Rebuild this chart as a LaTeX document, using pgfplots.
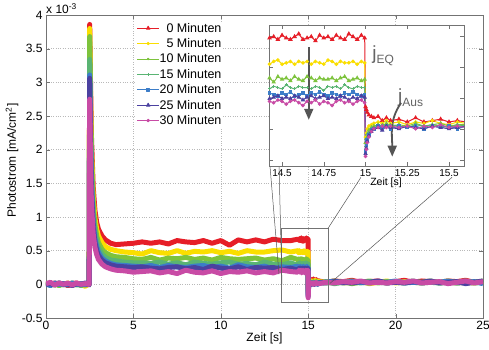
\documentclass[border=0pt]{standalone}
\usepackage{fontspec}
\setmainfont{Liberation Sans}
\usepackage{pgfplots}
\pgfplotsset{compat=1.18}
\usepackage{pgfplotstable}
\usetikzlibrary{arrows.meta}
\definecolor{c0}{RGB}{230,30,40}
\definecolor{c5}{RGB}{250,222,0}
\definecolor{c10}{RGB}{125,195,60}
\definecolor{c15}{RGB}{90,180,115}
\definecolor{c20}{RGB}{60,125,200}
\definecolor{c25}{RGB}{75,65,160}
\definecolor{c30}{RGB}{200,75,165}
\definecolor{axgray}{RGB}{115,115,115}
\definecolor{arr}{RGB}{85,85,85}
\definecolor{jgray}{RGB}{100,100,100}
\pgfplotstableread{
t r y g l b d m
0.00 0.01 0.00 0.02 -0.01 0.01 0.00 0.01
0.25 -0.01 0.02 0.00 0.01 -0.02 0.01 0.03
0.50 0.02 -0.01 0.01 0.00 0.02 -0.01 -0.01
0.75 0.00 0.01 -0.02 0.02 0.00 0.02 0.02
1.00 0.01 0.00 0.01 -0.01 0.01 0.00 0.00
1.25 -0.02 0.02 0.00 0.01 -0.01 0.01 0.02
1.50 0.01 -0.01 0.02 0.00 0.02 -0.02 -0.01
1.75 0.02 0.01 -0.01 0.01 0.00 0.01 0.02
2.00 -0.01 0.00 0.01 -0.02 0.01 0.00 0.00
2.25 0.01 -0.03 0.00 0.01 -0.01 0.02 0.01
2.47 0.00 0.01 0.02 0.00 0.01 -0.01 0.00
2.50 3.86 3.80 3.68 3.34 3.11 3.06 2.75
2.55 2.95 2.80 2.60 2.30 2.10 2.00 1.75
2.60 2.20 2.05 1.90 1.65 1.50 1.40 1.20
2.70 1.45 1.30 1.18 1.05 0.92 0.85 0.75
2.80 1.10 0.98 0.88 0.78 0.68 0.62 0.55
2.90 0.92 0.82 0.72 0.63 0.56 0.50 0.44
3.00 0.82 0.72 0.62 0.54 0.48 0.43 0.37
3.20 0.72 0.62 0.52 0.45 0.39 0.36 0.30
3.40 0.66 0.56 0.47 0.40 0.35 0.32 0.26
3.70 0.61 0.52 0.43 0.36 0.31 0.29 0.23
4.00 0.59 0.50 0.41 0.35 0.29 0.27 0.21
4.50 0.60 0.48 0.40 0.33 0.28 0.26 0.20
5.00 0.61 0.47 0.38 0.32 0.27 0.25 0.18
5.50 0.63 0.45 0.37 0.32 0.26 0.26 0.19
6.00 0.61 0.50 0.40 0.31 0.28 0.24 0.20
6.50 0.63 0.47 0.36 0.33 0.25 0.23 0.17
7.00 0.60 0.46 0.39 0.30 0.28 0.25 0.19
7.50 0.65 0.50 0.38 0.32 0.26 0.26 0.16
8.00 0.63 0.46 0.40 0.29 0.25 0.23 0.21
8.50 0.62 0.49 0.37 0.33 0.27 0.25 0.18
9.00 0.65 0.48 0.39 0.31 0.28 0.22 0.17
9.50 0.61 0.50 0.36 0.30 0.25 0.27 0.20
10.00 0.65 0.47 0.40 0.32 0.27 0.24 0.16
10.50 0.58 0.49 0.38 0.33 0.24 0.23 0.19
11.00 0.66 0.46 0.37 0.30 0.29 0.26 0.18
11.50 0.63 0.50 0.38 0.31 0.26 0.22 0.20
12.00 0.66 0.48 0.39 0.29 0.25 0.25 0.17
12.50 0.63 0.48 0.36 0.33 0.27 0.24 0.19
13.00 0.67 0.50 0.38 0.30 0.23 0.25 0.17
13.50 0.65 0.51 0.35 0.29 0.26 0.22 0.21
14.00 0.65 0.48 0.40 0.32 0.25 0.24 0.19
14.40 0.67 0.50 0.37 0.28 0.27 0.21 0.18
14.425 0.66 0.47 0.37 0.29 0.26 0.22 0.20
14.450 0.67 0.49 0.34 0.31 0.25 0.23 0.19
14.475 0.65 0.50 0.38 0.30 0.24 0.24 0.21
14.500 0.68 0.47 0.36 0.29 0.26 0.22 0.20
14.525 0.66 0.48 0.37 0.32 0.25 0.23 0.18
14.550 0.65 0.49 0.35 0.30 0.27 0.22 0.20
14.575 0.67 0.47 0.38 0.29 0.24 0.24 0.21
14.600 0.69 0.49 0.36 0.31 0.25 0.23 0.19
14.625 0.65 0.48 0.35 0.30 0.26 0.21 0.17
14.650 0.66 0.49 0.38 0.30 0.24 0.23 0.20
14.675 0.67 0.47 0.37 0.29 0.26 0.24 0.19
14.700 0.64 0.49 0.35 0.31 0.25 0.22 0.21
14.725 0.68 0.48 0.37 0.30 0.27 0.23 0.18
14.750 0.66 0.47 0.36 0.28 0.25 0.24 0.20
14.775 0.67 0.50 0.36 0.31 0.24 0.22 0.19
14.800 0.65 0.49 0.37 0.30 0.26 0.23 0.17
14.825 0.68 0.47 0.35 0.31 0.25 0.22 0.20
14.850 0.66 0.49 0.37 0.29 0.24 0.24 0.21
14.875 0.65 0.48 0.38 0.32 0.26 0.23 0.19
14.900 0.69 0.48 0.35 0.30 0.25 0.21 0.20
14.925 0.67 0.49 0.36 0.29 0.27 0.23 0.18
14.950 0.65 0.47 0.37 0.31 0.25 0.22 0.20
14.975 0.68 0.49 0.35 0.30 0.24 0.24 0.21
14.995 0.66 0.48 0.36 0.30 0.25 0.23 0.19
15.000 0.16 -0.06 -0.10 -0.13 -0.16 -0.18 -0.20
15.005 0.14 -0.03 -0.07 -0.10 -0.12 -0.14 -0.15
15.010 0.12 0.00 -0.04 -0.06 -0.08 -0.09 -0.10
15.020 0.10 0.02 -0.01 -0.03 -0.04 -0.05 -0.06
15.035 0.09 0.03 0.01 0.00 -0.01 -0.02 -0.02
15.050 0.08 0.04 0.02 0.01 0.00 0.00 0.00
15.075 0.09 0.05 0.03 0.02 0.02 0.01 0.01
15.100 0.06 0.04 0.02 0.03 0.01 -0.01 0.02
15.125 0.08 0.06 0.04 0.02 0.02 0.02 0.01
15.150 0.06 0.04 0.02 0.03 0.00 0.01 0.02
15.200 0.07 0.05 0.03 0.02 0.02 0.00 0.01
15.250 0.05 0.03 0.02 0.01 0.01 0.02 0.02
15.300 0.08 0.05 0.04 0.03 0.02 0.01 0.00
15.350 0.05 0.04 0.02 0.02 0.00 0.00 0.02
15.400 0.06 0.06 0.03 0.03 0.02 0.02 0.01
15.450 0.07 0.04 0.04 0.02 0.01 0.01 0.03
15.500 0.05 0.03 0.02 0.01 0.02 0.00 0.01
15.550 0.06 0.05 0.03 0.03 0.00 0.01 0.02
15.600 0.05 0.04 0.03 0.02 0.02 0.02 0.01
16.0 0.03 0.03 0.02 0.04 0.03 0.02 0.03
16.5 0.05 0.05 0.03 0.01 0.05 0.04 0.02
17.0 0.04 0.02 0.04 0.03 0.02 0.03 0.04
17.5 0.06 0.03 0.01 0.05 0.04 0.02 0.03
18.0 0.03 0.04 0.03 0.02 0.03 0.04 0.05
18.5 0.04 0.01 0.05 0.04 0.02 0.03 0.02
19.0 0.05 0.03 0.02 0.03 0.04 0.05 0.03
19.5 0.02 0.05 0.04 0.02 0.03 0.02 0.02
20.0 0.04 0.02 0.03 0.04 0.05 0.03 0.04
20.5 0.06 0.04 0.02 0.03 0.02 0.02 0.03
21.0 0.03 0.03 0.04 0.05 0.03 0.04 0.05
21.5 0.05 0.02 0.03 0.02 0.02 0.03 0.02
22.0 0.04 0.04 0.05 0.03 0.04 0.05 0.03
22.5 0.03 0.03 0.02 0.02 0.03 0.02 0.04
23.0 0.05 0.05 0.03 0.04 0.05 0.03 0.01
23.5 0.04 0.02 0.02 0.03 0.02 0.04 0.03
24.0 0.06 0.03 0.04 0.05 0.03 0.01 0.05
24.5 0.03 0.02 0.03 0.02 0.04 0.03 0.02
25.0 0.04 0.04 0.05 0.03 0.01 0.05 0.04
}\data
\begin{document}
\begin{tikzpicture}
\begin{axis}[name=main, scale only axis, width=437bp, height=303bp,
  xmin=0, xmax=25, ymin=-0.5, ymax=4,
  xtick={0,5,10,15,20,25}, ytick={-0.5,0,0.5,1,1.5,2,2.5,3,3.5,4},
  grid=major, major grid style={dotted, gray!55},
  axis line style={axgray}, tick style={axgray}, tick align=inside,
  ticklabel style={font=\fontsize{12bp}{14bp}\selectfont},
  /pgf/number format/assume math mode=true,
  xlabel={Zeit [s]}, ylabel={Photostrom [mA/cm\textsuperscript{2}]},
  label style={font=\fontsize{12bp}{14bp}\selectfont},
  xlabel style={at={([yshift=-20bp]axis description cs:0.5,0)}, anchor=center},
  ylabel style={at={([xshift=-34bp]axis description cs:0,0.52)}, anchor=center},
  legend style={at={(axis description cs:0.205,0.977)}, anchor=north west,
    draw=none, fill=white, inner sep=1bp,
    font=\fontsize{12.5bp}{14bp}\selectfont,
    nodes={inner sep=0bp, text height=9bp, text depth=1bp}, row sep=5.4bp},
  legend cell align=left,
  legend image code/.code={\draw[mark repeat=2,mark phase=2] plot coordinates {(0bp,0bp) (11bp,0bp) (22bp,0bp)};},
  every axis plot/.append style={line join=round},
]
\addplot[c0, line width=5pt, forget plot] table[x=t,y=r]{\data};
\addplot[c5, line width=5pt, forget plot] table[x=t,y=y]{\data};
\addplot[c10, line width=5pt, forget plot] table[x=t,y=g]{\data};
\addplot[c15, line width=5pt, forget plot] table[x=t,y=l]{\data};
\addplot[c20, line width=5pt, forget plot] table[x=t,y=b]{\data};
\addplot[c25, line width=5pt, forget plot] table[x=t,y=d]{\data};
\addplot[c30, line width=5pt, forget plot] table[x=t,y=m]{\data};
\draw[axgray, line width=0.7pt] (axis cs:13.44,-0.27) rectangle (axis cs:16.13,0.83);
\draw[arr, line width=0.5pt] (axis cs:12.81,1.77) -- (axis cs:13.33,0.15);
\draw[arr, line width=0.5pt] (axis cs:13.33,1.77) -- (axis cs:13.50,0.0);
\draw[arr, line width=0.5pt] (axis cs:18.02,1.59) -- (axis cs:16.13,0.83);
\draw[arr, line width=0.5pt] (axis cs:23.23,1.59) -- (axis cs:16.25,0.015);
\addlegendimage{c0, line width=0.8pt, mark=triangle*, mark size=2pt}
\addlegendentry{\phantom{0}0 Minuten}
\addlegendimage{c5, line width=0.8pt, mark=*, mark size=1.3pt}
\addlegendentry{\phantom{0}5 Minuten}
\addlegendimage{c10, line width=0.8pt, mark=*, mark size=0.9pt}
\addlegendentry{10 Minuten}
\addlegendimage{c15, line width=0.8pt, mark=+, mark size=1.4pt}
\addlegendentry{15 Minuten}
\addlegendimage{c20, line width=0.8pt, mark=square*, mark size=1.3pt}
\addlegendentry{20 Minuten}
\addlegendimage{c25, line width=0.8pt, mark=triangle*, mark size=2pt}
\addlegendentry{25 Minuten}
\addlegendimage{c30, line width=0.8pt, mark=*, mark size=1.4pt}
\addlegendentry{30 Minuten}
\end{axis}
\node[anchor=base west, inner sep=0pt, font=\fontsize{12bp}{14bp}\selectfont] at ([yshift=1.5bp]main.north west) {x 10\textsuperscript{-3}};
\begin{axis}[at={(main.south west)}, xshift=223bp, yshift=152bp, anchor=south west,
  scale only axis, width=195bp, height=141bp,
  xmin=14.422, xmax=15.59, ymin=-0.27, ymax=0.755,
  xtick={14.5,14.75,15,15.25,15.5}, ytick={-0.225,0,0.225,0.45,0.675}, yticklabels={},
  axis background/.style={fill=white},
  axis line style={axgray}, tick style={axgray}, tick align=inside,
  ticklabel style={font=\fontsize{10bp}{12bp}\selectfont},
  xticklabel style={/pgf/number format/precision=2},
  /pgf/number format/assume math mode=true,
  xlabel={Zeit [s]},
  xlabel style={font=\fontsize{10.5bp}{12bp}\selectfont, at={([yshift=-17bp]axis description cs:0.6,0)}, anchor=center},
  every axis plot/.append style={line width=1pt},
  every mark/.append style={solid},
]
\addplot[c0, mark=triangle*, mark size=1.8pt] table[x=t,y=r]{\data};
\addplot[c5, mark=*, mark size=1.3pt] table[x=t,y=y]{\data};
\addplot[c10, mark=triangle, mark size=1.6pt] table[x=t,y=g]{\data};
\addplot[c15, mark=+, mark size=1.5pt] table[x=t,y=l]{\data};
\addplot[c20, mark=square*, mark size=1.3pt] table[x=t,y=b]{\data};
\addplot[c25, mark=triangle*, mark size=1.6pt] table[x=t,y=d]{\data};
\addplot[c30, mark=*, mark size=1.3pt] table[x=t,y=m]{\data};
\node[text=jgray, font=\fontsize{19bp}{19bp}\selectfont] at (axis cs:15.105,0.53) {j\raisebox{-0.22em}{\fontsize{12bp}{12bp}\selectfont EQ}};
\node[text=jgray, font=\fontsize{19bp}{19bp}\selectfont] at (axis cs:15.27,0.225) {j\raisebox{-0.22em}{\fontsize{12bp}{12bp}\selectfont Aus}};
\draw[arr, line width=1.8pt, -{Triangle[length=11bp,width=9bp]}] (axis cs:14.66,0.595) -- (axis cs:14.66,0.066);
\draw[arr, line width=1.8pt, -{Triangle[length=11bp,width=9bp]}] (axis cs:15.213,0.189) to[out=235,in=90] (axis cs:15.16,-0.202);
\end{axis}
\pgfresetboundingbox
\useasboundingbox ([xshift=-46bp,yshift=-32bp]main.south west) rectangle ([xshift=6bp,yshift=15bp]main.north east);
\end{tikzpicture}
\end{document}
